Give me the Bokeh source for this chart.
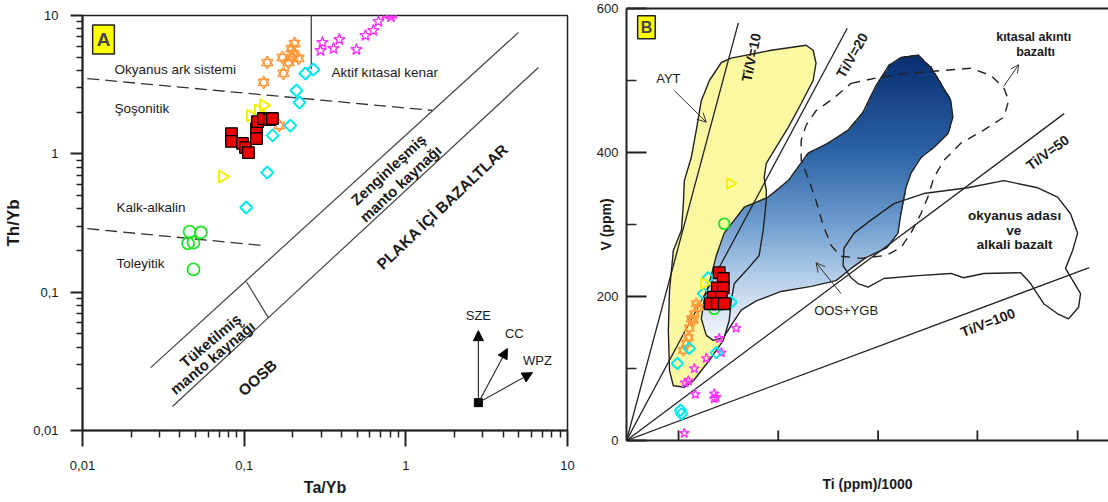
import numpy as np
from bokeh.plotting import figure
from bokeh.models import (Label, Arrow, NormalHead, OpenHead, FixedTicker, LinearAxis,
                          CustomJSTickFormatter, Range1d)
from bokeh.layouts import row
from bokeh.embed import file_html
from bokeh.resources import INLINE

FONT = "Liberation Sans"
TXT = "#1a1a1a"

# ---------------- Panel A data (Ta/Yb vs Th/Yb) ----------------
a_sq_ta = [0.0835, 0.0835, 0.0976, 0.1019, 0.1063, 0.1192, 0.1192, 0.1209, 0.1317, 0.1434, 0.1496]
a_sq_th = [1.40, 1.23, 1.19, 1.11, 1.02, 1.52, 1.29, 1.71, 1.80, 1.77, 1.80]
a_tri_ta = [0.1317, 0.1226, 0.1094, 0.0734]
a_tri_th = [2.24, 2.06, 1.89, 0.685]
a_dia_ta = [0.268, 0.239, 0.2105, 0.220, 0.193, 0.150, 0.139, 0.103]
a_dia_th = [4.07, 3.81, 2.87, 2.35, 1.60, 1.36, 0.732, 0.409]
a_hex_ta = [0.205, 0.196, 0.202, 0.199, 0.1725, 0.188, 0.217, 0.139, 0.175, 0.132, 0.165]
a_hex_th = [6.27, 5.77, 5.31, 4.97, 4.97, 4.57, 4.89, 4.57, 3.81, 3.28, 1.60]
a_star_ta = [0.305, 0.297, 0.357, 0.388, 0.495, 0.563, 0.630, 0.677, 0.748, 0.79, 0.838, 0.81]
a_star_th = [6.38, 5.58, 5.77, 6.71, 5.68, 7.17, 7.79, 9.05, 10.2, 10.3, 10.3, 9.8]
a_cir_ta = [0.046, 0.054, 0.045, 0.0486, 0.0486]
a_cir_th = [0.274, 0.270, 0.225, 0.228, 0.146]

# boundaries panel A
arc_x = [0.0107, 1.46];  arc_y = [3.50, 2.06]
calc_x = [0.0107, 0.1315]; calc_y = [0.288, 0.217]
acm_x = [0.26, 0.26];  acm_y = [10.0, 4.1]
upper_x = [0.0264, 4.97]; upper_y = [0.0285, 7.54]
lower_x = [0.036, 6.61];  lower_y = [0.0149, 4.21]
cross_x = [0.1033, 0.141]; cross_y = [0.119, 0.0655]
vec_origin = (2.81, 0.0159)
vec_tips = {"SZE": (2.81, 0.0527), "CC": (4.25, 0.0391), "WPZ": (6.07, 0.0262)}
vec_labels = {"SZE": (2.81, 0.0678), "CC": (4.69, 0.0502), "WPZ": (6.52, 0.0320)}
log_major = [0.01, 0.1, 1, 10]
log_minor = [k * 10.0 ** e for e in (-2, -1, 0) for k in range(2, 10)]

# ---------------- Panel B data (Ti/1000 vs V) ----------------
b_sq_ti = [4.81, 5.02, 4.71, 5.02, 4.50, 4.92, 4.35, 4.71, 5.07]
b_sq_v = [233, 225, 212, 212, 199, 199, 190, 190, 190]
b_dia_ti = [4.24, 3.99, 5.43, 3.26, 2.64, 4.66, 2.80, 2.85]
b_dia_v = [226, 204, 192, 128, 107, 122, 42, 37]
b_hex_ti = [3.73, 3.62, 3.52, 3.47, 3.36, 3.26, 3.21, 3.11, 2.95]
b_hex_v = [185, 190, 176, 167, 169, 156, 143, 135, 125]
b_star_ti = [5.69, 4.81, 4.92, 4.14, 3.52, 3.21, 3.05, 3.57, 4.55, 4.66, 4.55, 3.00]
b_star_v = [156, 142, 122, 114, 100, 83, 80, 64, 65, 60, 58, 10]
b_tri_ti = [5.38, 4.04]
b_tri_v = [357, 218]
b_cir_ti = [5.07, 4.55]
b_cir_v = [301, 183]

ratios = [10, 20, 50, 100]
ratio_x_end = [5.8, 11.45, 22.7, 24.0]

yellow_x = [4.92, 5.43, 7.51, 9.32, 9.68, 9.83, 9.68, 9.06, 8.39, 7.66, 7.25, 7.14, 7.25, 7.25,
            7.09, 6.88, 6.21, 5.59, 5.43, 5.33, 5.02, 4.40, 3.47, 3.00, 2.43, 2.23, 2.17, 2.23,
            2.43, 2.85, 2.95, 3.00, 3.36, 3.62, 3.88, 4.30]
yellow_v = [525, 531, 542, 549, 542, 524, 500, 468, 435, 403, 385, 365, 347, 333, 292, 257, 236,
            218, 194, 167, 139, 115, 83, 74, 76, 97, 153, 208, 264, 292, 329, 361, 393, 431, 472, 500]
blue_x = [4.14, 3.88, 4.04, 4.40, 4.66, 5.07, 6.11, 7.35, 8.39, 9.42, 10.46, 11.49, 12.27, 12.94,
          13.61, 14.23, 15.11, 15.79, 16.30, 16.82, 16.93, 16.67, 15.94, 15.27, 14.75, 14.49, 14.23,
          14.08, 13.51, 12.42, 11.65, 10.87, 9.58, 8.02, 6.73, 5.95, 5.43, 5.02, 4.50]
blue_v = [146, 169, 197, 229, 257, 288, 324, 338, 361, 399, 413, 431, 456, 493, 521, 532, 535, 518,
          496, 472, 449, 426, 407, 393, 371, 351, 315, 288, 268, 254, 239, 222, 214, 207, 194, 181,
          160, 143, 139]
oib_x = [11.80, 12.68, 13.87, 15.42, 17.70, 19.57, 21.33, 22.36, 23.03, 23.40, 23.14, 22.77, 23.55,
         23.45, 22.93, 22.36, 21.64, 20.96, 20.45, 18.53, 17.49, 16.82, 15.11, 13.35, 12.53, 12.01,
         11.65, 11.23, 11.28]
oib_v = [288, 306, 329, 343, 351, 361, 351, 338, 315, 288, 264, 239, 204, 185, 169, 176, 190, 218,
         233, 232, 226, 232, 229, 225, 213, 218, 226, 243, 267]
cfb_x = [11.65, 13.04, 14.60, 16.46, 17.86, 18.89, 19.57, 19.82, 19.57, 18.53, 17.34, 16.46, 15.94,
         15.63, 15.27, 14.75, 14.23, 13.46, 12.16, 11.13, 10.61, 10.20, 9.83, 9.47, 9.06, 9.06,
         9.32, 9.83, 10.77]
cfb_v = [496, 504, 510, 514, 517, 507, 490, 472, 449, 431, 413, 389, 365, 338, 315, 288, 268, 257,
         253, 256, 271, 299, 333, 361, 389, 417, 438, 458, 476]
grad_v = [140, 220, 300, 400, 530]
grad_rgb = [(246, 249, 253), (186, 210, 235), (112, 158, 207), (44, 100, 166), (10, 48, 115)]
b_xticks = [2.7, 7.87, 13.05, 18.2, 23.4]


def lab(p, x, y, text, size, bold=False, angle=0.0, align="center", color=TXT):
    p.add_layout(Label(x=x, y=y, text=text, text_font=FONT, text_font_size=f"{size}px",
                       text_font_style="bold" if bold else "normal", angle=angle,
                       text_align=align, text_baseline="middle", text_color=color))


def markers(p, x, y, kind, s=1.0):
    if kind == "square":
        p.scatter(x, y, marker="square", size=11 * s, fill_color="#ee0000",
                  line_color="black", line_width=1.3)
    elif kind == "diamond":
        p.scatter(x, y, marker="square", angle=np.pi / 4, size=8.5 * s, fill_color=None,
                  line_color="#00e8f0", line_width=2)
    elif kind == "tri":
        p.scatter(x, y, marker="triangle", angle=-np.pi / 2, size=12 * s, fill_color=None,
                  line_color="#f2f000", line_width=2)
    elif kind == "hex":
        for m in ("triangle", "inverted_triangle"):
            p.scatter(x, y, marker=m, size=11 * s, fill_color=None,
                      line_color="#ff9a3c", line_width=1.4)
    elif kind == "star":
        p.scatter(x, y, marker="star", size=12 * s, fill_color=None,
                  line_color="#ff33ff", line_width=1.4)
    elif kind == "circle":
        p.scatter(x, y, marker="circle", size=12 * s, fill_color=None,
                  line_color="#22e322", line_width=1.8)


# ======================= PANEL A =======================
pA = figure(width=594, height=500, x_axis_type="log", y_axis_type="log",
            x_range=Range1d(0.01, 10), y_range=Range1d(0.01, 10),
            output_backend="svg", toolbar_location=None,
            min_border_left=82, min_border_right=27, min_border_top=15, min_border_bottom=70)
pA.frame_align = False
pA.grid.visible = False
pA.outline_line_color = "#222"
pA.outline_line_width = 1.5
fmt = CustomJSTickFormatter(code="return String(tick).replace('.', ',');")
for ax in (pA.xaxis[0], pA.yaxis[0]):
    ax.ticker = FixedTicker(ticks=log_major, minor_ticks=log_minor)
    ax.formatter = fmt
    ax.axis_line_width = 2
    ax.axis_line_color = "#222"
    ax.major_tick_line_width = 2
    ax.minor_tick_line_width = 1.5
    ax.major_tick_line_color = "#222"
    ax.minor_tick_line_color = "#222"
    ax.major_tick_in = 0
    ax.minor_tick_in = 0
    ax.major_label_text_font = FONT
    ax.major_label_text_font_size = "13px"
    ax.major_label_text_color = TXT
    ax.axis_label_text_font = FONT
    ax.axis_label_text_font_style = "bold"
    ax.axis_label_text_color = TXT
pA.xaxis.major_tick_out = 16
pA.xaxis.minor_tick_out = 7
pA.xaxis.major_label_standoff = 14
pA.xaxis.axis_label = "Ta/Yb"
pA.xaxis.axis_label_text_font_size = "16px"
pA.xaxis.axis_label_standoff = 6
pA.yaxis.major_tick_out = 12
pA.yaxis.minor_tick_out = 6
pA.yaxis.major_label_standoff = 12
pA.yaxis.axis_label = "Th/Yb"
pA.yaxis.axis_label_text_font_size = "17px"
pA.yaxis.axis_label_standoff = 7

pA.line(arc_x, arc_y, line_color="#333", line_width=1.3, line_dash="12 6")
pA.line(calc_x, calc_y, line_color="#333", line_width=1.3, line_dash="12 6")
pA.line(acm_x, acm_y, line_color="#333", line_width=1.2)
for lx, ly in ((upper_x, upper_y), (lower_x, lower_y), (cross_x, cross_y)):
    pA.line(lx, ly, line_color="#444", line_width=1.2)

# region texts
lab(pA, 0.01578, 4.07, "Okyanus ark sistemi", 13.5, align="left")
lab(pA, 0.01578, 2.13, "Şoşonitik", 13.5, align="left")
lab(pA, 0.01623, 0.409, "Kalk-alkalin", 13.5, align="left")
lab(pA, 0.01623, 0.161, "Toleyitik", 13.5, align="left")
lab(pA, 0.3467, 3.87, "Aktif kıtasal kenar", 13.5, align="left")
rot = np.deg2rad(43)
lab(pA, 0.780, 0.770, "Zenginleşmiş", 15, bold=True, angle=rot)
lab(pA, 0.926, 0.610, "manto kaynağı", 15, bold=True, angle=rot)
lab(pA, 1.684, 0.416, "PLAKA İÇİ BAZALTLAR", 15.5, bold=True, angle=np.deg2rad(43.5))
lab(pA, 0.0619, 0.0447, "Tüketilmiş", 15, bold=True, angle=np.deg2rad(40))
lab(pA, 0.0637, 0.0337, "manto kaynağı", 15, bold=True, angle=np.deg2rad(40))
lab(pA, 0.121, 0.0241, "OOSB", 15.5, bold=True, angle=np.deg2rad(42))

# vectors
for key, (tx, ty) in vec_tips.items():
    pA.add_layout(Arrow(end=NormalHead(size=10, fill_color="black", line_color="black"),
                        x_start=vec_origin[0], y_start=vec_origin[1], x_end=tx, y_end=ty,
                        line_color="#222", line_width=1.1))
    lx, ly = vec_labels[key]
    lab(pA, lx, ly, key, 13)
pA.scatter([vec_origin[0]], [vec_origin[1]], marker="square", size=8, color="black")

# points
markers(pA, a_cir_ta, a_cir_th, "circle")
markers(pA, a_dia_ta, a_dia_th, "diamond")
markers(pA, a_hex_ta, a_hex_th, "hex")
markers(pA, a_star_ta, a_star_th, "star")
markers(pA, a_tri_ta, a_tri_th, "tri")
markers(pA, a_sq_ta, a_sq_th, "square", s=1.05)

pA.add_layout(Label(x=0.01349, y=6.71, text="A", text_font=FONT, text_font_size="19px",
                    text_font_style="bold", text_align="center", text_baseline="middle",
                    background_fill_color="#ffff00", border_line_color="#222",
                    border_line_width=1.5, padding=4))

# ======================= PANEL B =======================
pB = figure(width=514, height=500, x_range=Range1d(0, 25), y_range=Range1d(0, 600),
            output_backend="svg", toolbar_location=None,
            min_border_left=31, min_border_right=0, min_border_top=8, min_border_bottom=60)
pB.frame_align = False
pB.grid.visible = False
pB.outline_line_color = None
pB.yaxis.ticker = FixedTicker(ticks=[0, 200, 400, 600], minor_ticks=[100, 300, 500])
pB.xaxis.ticker = FixedTicker(ticks=[], minor_ticks=[])
for ax in (pB.xaxis[0], pB.yaxis[0]):
    ax.axis_line_width = 2
    ax.axis_line_color = "#222"
    ax.major_tick_out = 0
    ax.minor_tick_out = 0
    ax.major_tick_line_width = 1.8
    ax.minor_tick_line_width = 1.5
    ax.major_tick_line_color = "#222"
    ax.minor_tick_line_color = "#222"
    ax.major_label_text_font = FONT
    ax.major_label_text_font_size = "13px"
    ax.major_label_text_color = TXT
    ax.axis_label_text_font = FONT
    ax.axis_label_text_font_style = "bold"
    ax.axis_label_text_font_size = "14px"
    ax.axis_label_text_color = TXT
pB.yaxis.major_tick_in = 20
pB.yaxis.minor_tick_in = 10
pB.yaxis.major_label_standoff = 8
pB.yaxis.axis_label = "V (ppm)"
pB.yaxis.axis_label_standoff = -20
pB.xaxis.major_tick_in = 0
pB.xaxis.major_label_standoff = 0
pB.xaxis.axis_label = "Ti (ppm)/1000"
pB.xaxis.axis_label_standoff = 35
top_axis = LinearAxis(ticker=FixedTicker(ticks=[], minor_ticks=[]), axis_line_width=2,
                      axis_line_color="#222", major_label_standoff=0)
pB.add_layout(top_axis, "above")

# fields
pB.patch(yellow_x, yellow_v, fill_color="#fbf8a2", line_color=None)

gx0, gx1, gv0, gv1 = 3.5, 17.5, 130.0, 545.0
nx, nv = 300, 330
XX, VV = np.meshgrid(np.linspace(gx0, gx1, nx), np.linspace(gv0, gv1, nv))
px_, pv_ = np.array(blue_x), np.array(blue_v)
inside = np.zeros(XX.shape, dtype=bool)
j = len(px_) - 1
for i in range(len(px_)):
    xi, yi, xj, yj = px_[i], pv_[i], px_[j], pv_[j]
    cond = ((yi > VV) != (yj > VV)) & (XX < (xj - xi) * (VV - yi) / (yj - yi + 1e-12) + xi)
    inside ^= cond
    j = i
img = np.zeros((nv, nx), dtype=np.uint32)
view = img.view(dtype=np.uint8).reshape((nv, nx, 4))
for c in range(3):
    view[:, :, c] = np.interp(VV, grad_v, [g[c] for g in grad_rgb]).astype(np.uint8)
view[:, :, 3] = np.where(inside, 255, 0).astype(np.uint8)
pB.image_rgba(image=[img], x=gx0, y=gv0, dw=gx1 - gx0, dh=gv1 - gv0)


def closed(a):
    return list(a) + [a[0]]


pB.line(closed(yellow_x), closed(yellow_v), line_color="#222", line_width=1.4)
pB.line(closed(blue_x), closed(blue_v), line_color="#222", line_width=1.4)
pB.line(closed(oib_x), closed(oib_v), line_color="#222", line_width=1.4)
pB.line(closed(cfb_x), closed(cfb_v), line_color="#222", line_width=1.4, line_dash="9 7")

for r, xe in zip(ratios, ratio_x_end):
    pB.line([0, xe], [0, 1000.0 * xe / r], line_color="#222", line_width=1.3)

# inward x ticks (no labels in the original)
pB.segment(x0=b_xticks, y0=[0] * len(b_xticks), x1=b_xticks, y1=[14] * len(b_xticks),
           line_color="#222", line_width=1.8)

markers(pB, b_star_ti, b_star_v, "star", s=0.85)
markers(pB, b_hex_ti, b_hex_v, "hex", s=0.9)
markers(pB, b_dia_ti, b_dia_v, "diamond", s=0.95)
markers(pB, b_tri_ti, b_tri_v, "tri", s=0.9)
markers(pB, b_cir_ti, b_cir_v, "circle", s=0.9)
markers(pB, b_sq_ti, b_sq_v, "square", s=1.05)

# texts
lab(pB, 2.17, 503, "AYT", 13)
pB.add_layout(Arrow(end=OpenHead(size=9, line_width=1, line_color="#333"), x_start=2.48, y_start=486,
                    x_end=4.14, y_end=442, line_color="#333", line_width=1))
lab(pB, 11.39, 181, "OOS+YGB", 13)
pB.add_layout(Arrow(end=OpenHead(size=9, line_width=1, line_color="#333"), x_start=11.13, y_start=204,
                    x_end=9.83, y_end=247, line_color="#333", line_width=1))
lab(pB, 21.12, 560, "kıtasal akıntı", 12.5, bold=True)
lab(pB, 21.22, 539, "bazaltı", 12.5, bold=True)
pB.add_layout(Arrow(end=OpenHead(size=8, line_width=1, line_color="#333"), x_start=19.57, y_start=492,
                    x_end=20.34, y_end=522, line_color="#333", line_width=1))
lab(pB, 20.13, 312, "okyanus adası", 13.5, bold=True)
lab(pB, 20.08, 292, "ve", 13.5, bold=True)
lab(pB, 20.13, 272, "alkali bazalt", 13.5, bold=True)
lab(pB, 6.47, 532, "Ti/V=10", 14, bold=True, angle=np.deg2rad(78))
lab(pB, 11.70, 535, "Ti/V=20", 14, bold=True, angle=np.deg2rad(60))
lab(pB, 21.84, 400, "Ti/V=50", 14, bold=True, angle=np.deg2rad(36))
lab(pB, 18.74, 164, "Ti/V=100", 14, bold=True, angle=np.deg2rad(21))
pB.add_layout(Label(x=1.035, y=574, text="B", text_font=FONT, text_font_size="16px",
                    text_font_style="bold", text_align="center", text_baseline="middle",
                    background_fill_color="#ffff00", border_line_color="#222",
                    border_line_width=1.5, padding=3))

layout = row(pA, pB)
open("out.html", "w").write(file_html(layout, INLINE))
